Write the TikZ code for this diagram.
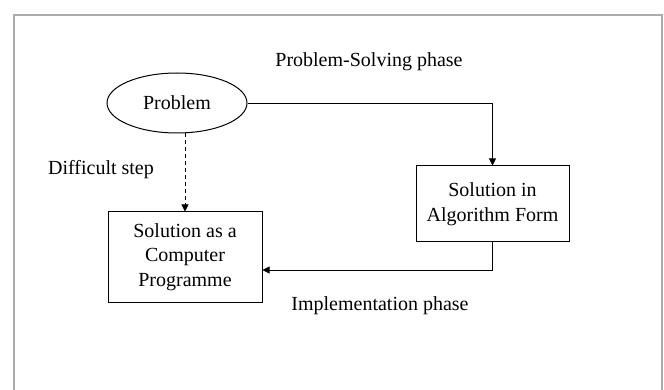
\documentclass[tikz,border=0pt]{standalone}
\usepackage{fontspec}
\setmainfont{Liberation Serif}
\usetikzlibrary{shapes.geometric,arrows.meta}
\begin{document}
\begin{tikzpicture}[x=1pt,y=-1pt,
  lbl/.style={font=\fontsize{20}{24}\selectfont, inner sep=0pt},
  boxnode/.style={draw, line width=1pt, font=\fontsize{20}{24.5}\selectfont, align=center, inner sep=0pt},
  conn/.style={line width=0.9pt, -{Triangle[length=7pt,width=7pt]}}]
\useasboundingbox (0,0) rectangle (664,390);
\draw[color=black!33, line width=1.5pt] (14,390) -- (14,15) -- (662,15) -- (662,390);
\node[boxnode, ellipse, minimum width=140pt, minimum height=60pt] (prob) at (177,103) {Problem};
\node[boxnode, minimum width=153pt, minimum height=76pt] (alg) at (492.5,204) {Solution in\\Algorithm Form};
\node[boxnode, minimum width=154pt, minimum height=90pt] (prog) at (185,257) {Solution as a\\Computer\\Programme};
\coordinate (c1) at (492.5,103);
\coordinate (c2) at (492.5,270);
\draw[conn] (prob.east) -- (c1) -- (alg.north);
\draw[conn] (alg.south) -- (c2) -- (prog.east |- c2);
\draw[conn, dashed, dash pattern=on 4pt off 3pt] (prob.south -| prog.north) -- (prog.north);
\node[lbl] (t1) at (369,62) {Problem-Solving phase};
\node[lbl] (t2) at (101,170) {Difficult step};
\node[lbl] (t3) at (380,306) {Implementation phase};
\end{tikzpicture}
\end{document}
